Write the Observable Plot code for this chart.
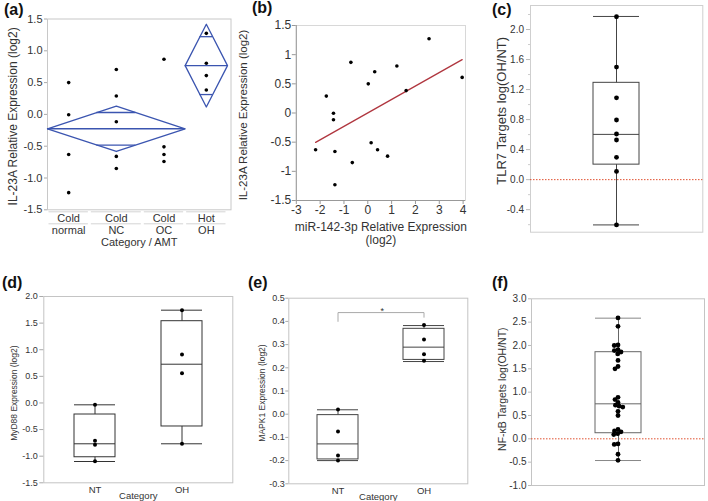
<!DOCTYPE html>
<html><head><meta charset="utf-8">
<script src="https://cdn.jsdelivr.net/npm/d3@7"></script>
<script src="https://cdn.jsdelivr.net/npm/@observablehq/plot@0.6"></script>
<style>
body{margin:0;background:#fff;}
#fig{position:relative;width:708px;height:501px;overflow:hidden;background:#fff;font-family:"Liberation Sans",Arial,Helvetica,sans-serif;}
#fig svg{position:absolute;overflow:visible;}
.lab{position:absolute;font-weight:bold;font-size:16px;line-height:16px;color:#111;}
</style></head><body><div id="fig"></div>
<script>
// ---------- DATA ----------
// (a)/(b) samples
const amtGroups = ["normal", "NC", "OC", "OH"];
const amtCategory = ["Cold", "Cold", "Cold", "Hot"];
const amtCounts = [4, 5, 4, 4];
const sampleGroup = ["normal","normal","normal","normal","NC","NC","NC","NC","NC","OC","OC","OC","OC","OH","OH","OH","OH"];
const il23a = [0.50, -0.005, -0.63, -1.23, 0.706, 0.29, -0.115, -0.66, -0.85, 0.868, -0.51, -0.63, -0.74, 1.274, 0.805, 0.61, 0.384];
const mir142 = [0.02, -1.44, -2.19, -1.38, 0.29, -1.74, -1.44, -1.38, -0.65, -0.71, 0.14, 0.41, 0.83, 2.57, 1.22, 3.96, 1.61];
// (a) means diamonds
const catNames = ["Cold", "Hot"];
const catMean = [-0.226, 0.767];
const catCI = [0.357, 0.650];
const catOverlap = [0.256, 0.455];
const aTicks = [-1.5, -1, -0.5, 0, 0.5, 1, 1.5];
const bTicksX = [-3, -2, -1, 0, 1, 2, 3, 4];
const bTicksY = [-1.5, -1, -0.5, 0, 0.5, 1, 1.5];
// (c) TLR7 targets
const tlr7 = [2.17, 1.50, 1.09, 0.795, 0.608, 0.528, 0.297, 0.11, -0.603];
const cBox = {q1: 0.20, med: 0.603, q3: 1.29, lo: -0.603, hi: 2.174};
const cTicks = [-0.4, 0, 0.4, 0.8, 1.2, 1.6, 2.0];
// (d) MyD88
const dKeys = ["NT", "OH"];
const dNT = [-0.035, -0.711, -0.786, -1.094];
const dOH = [1.743, 0.91, 0.56, -0.767];
const dQ1 = [-1.02, -0.442], dMed = [-0.767, 0.728], dQ3 = [-0.217, 1.536], dLo = [-1.10, -0.767], dHi = [-0.035, 1.743];
const dTicks = [-1.5, -1.0, -0.5, 0, 0.5, 1.0, 1.5, 2.0];
// (e) MAPK1
const eNT = [0.02, -0.075, -0.178, -0.20];
const eOH = [0.385, 0.322, 0.258, 0.23];
const eQ1 = [-0.195, 0.234], eMed = [-0.128, 0.289], eQ3 = [-0.004, 0.368], eLo = [-0.20, 0.227], eHi = [0.019, 0.382];
const eTicks = [-0.3, -0.2, -0.1, 0, 0.1, 0.2, 0.3, 0.4, 0.5];
const eBracket = {left: 0.40, top: 0.438, right: 0.418};
// (f) NF-kB targets
const nfkb = [2.59, 2.41, 2.01, 2.00, 1.91, 1.89, 1.86, 1.82, 1.68, 1.55, 1.50, 0.89, 0.84, 0.78, 0.72, 0.70, 0.68, 0.59, 0.50, 0.20, 0.17, 0.15, 0.11, 0.09, -0.11, -0.12, -0.33, -0.46];
const fBox = {q1: 0.12, med: 0.75, q3: 1.856, lo: -0.465, hi: 2.585};
const fTicks = [-1, -0.5, 0, 0.5, 1, 1.5, 2, 2.5, 3];

// ---------- HELPERS ----------
const FONT = '"Liberation Sans", Arial, Helvetica, sans-serif';
const fig = document.getElementById("fig");
const f1 = d => d.toFixed(1);
function place(svg, left, top) { svg.style.left = left + "px"; svg.style.top = top + "px"; fig.appendChild(svg); }
function letter(t, left, top) { const d = document.createElement("div"); d.className = "lab"; d.textContent = t; d.style.left = left + "px"; d.style.top = top + "px"; fig.appendChild(d); }
function boxMarks(box, color, capColor) {
  return [
    Plot.ruleX(box, {x: "k", y1: "q3", y2: "hi", stroke: color}),
    Plot.ruleX(box, {x: "k", y1: "lo", y2: "q1", stroke: color}),
    Plot.tickY(box, {x: "k", y: "hi", stroke: capColor}),
    Plot.tickY(box, {x: "k", y: "lo", stroke: capColor}),
    Plot.barY(box, {x: "k", y1: "q1", y2: "q3", fill: "none", stroke: color}),
    Plot.tickY(box, {x: "k", y: "med", stroke: color})
  ];
}
function yTitle(t, dx, dy, size) {
  return Plot.text([t], {frameAnchor: "left", textAnchor: "middle", lineAnchor: "middle", dx, dy, rotate: -90, fontSize: size, fill: "#333"});
}
function xText(t, dy, size) {
  return Plot.text([t], {frameAnchor: "bottom", lineAnchor: "middle", dy, fontSize: size, fill: "#333"});
}
const style = {fontFamily: FONT, background: "transparent", overflow: "visible", color: "#333"};

// ---------- (a) ----------
const cols = amtGroups.map((g, i) => {
  const s = d3.sum(amtCounts.slice(0, i));
  return {g, cat: amtCategory[i], s, e: s + amtCounts[i], c: s + amtCounts[i] / 2};
});
const aPts = il23a.map((v, i) => ({v, c: cols.find(c => c.g === sampleGroup[i]).c}));
const cats = catNames.map((n, i) => {
  const cs = cols.filter(c => c.cat === n);
  const x0 = d3.min(cs, c => c.s), x1 = d3.max(cs, c => c.e);
  return {n, x0, x1, xc: (x0 + x1) / 2, m: catMean[i], ci: catCI[i], ov: catOverlap[i]};
});
const diamond = cats.flatMap(c => [
  {id: c.n, x: c.x0, y: c.m}, {id: c.n, x: c.xc, y: c.m + c.ci}, {id: c.n, x: c.x1, y: c.m},
  {id: c.n, x: c.xc, y: c.m - c.ci}, {id: c.n, x: c.x0, y: c.m}]);
const diaSegs = cats.flatMap(c => {
  const hw = (c.x1 - c.x0) / 2 * (1 - c.ov / c.ci);
  return [{x1: c.x0, x2: c.x1, y: c.m}, {x1: c.xc - hw, x2: c.xc + hw, y: c.m + c.ov}, {x1: c.xc - hw, x2: c.xc + hw, y: c.m - c.ov}];
});
const BLUE = "#3b55b0";
place(Plot.plot({
  width: 236, height: 250, marginLeft: 47, marginRight: 5.5, marginTop: 18.5, marginBottom: 40.7, style,
  x: {domain: [0, 17.33], axis: null},
  y: {domain: [-1.5, 1.5], axis: null},
  marks: [
    Plot.frame({stroke: "#c8c8c8"}),
    Plot.axisY({ticks: aTicks, tickFormat: f1, tickSize: 3, tickPadding: 2, label: null, fontSize: 11, stroke: "#aaa", fill: "#333"}),
    Plot.line(diamond, {x: "x", y: "y", z: "id", stroke: BLUE, strokeWidth: 1.3}),
    Plot.ruleY(diaSegs, {x1: "x1", x2: "x2", y: "y", stroke: BLUE, strokeWidth: 1.3}),
    Plot.dot(aPts, {x: "c", y: "v", r: 1.8, fill: "#000", stroke: null}),
    Plot.ruleY(cols, {x1: "s", x2: "e", y: () => -1.5, dy: 2, stroke: "#d4d4d4", insetLeft: 1.5, insetRight: 1.5}),
    Plot.ruleY(cols, {x1: "s", x2: "e", y: () => -1.5, dy: 14, stroke: "#d4d4d4", insetLeft: 1.5, insetRight: 1.5}),
    Plot.text(cols, {x: "c", text: "cat", frameAnchor: "bottom", lineAnchor: "middle", dy: 8.4, fontSize: 11, fill: "#333"}),
    Plot.text(cols, {x: "c", text: "g", frameAnchor: "bottom", lineAnchor: "middle", dy: 20.7, fontSize: 11, fill: "#333"}),
    xText("Category / AMT", 32.4, 11),
    yTitle("IL-23A Relative Expression (log2)", -34, 2, 12)
  ]
}), 0, 0);
letter("(a)", 4, 1.5);

// ---------- (b) ----------
const bPts = il23a.map((v, i) => ({x: mir142[i], y: v}));
place(Plot.plot({
  width: 236, height: 250, marginLeft: 59.8, marginRight: 7, marginTop: 25, marginBottom: 50, style,
  x: {domain: [-3, 4.1], axis: null},
  y: {domain: [-1.5, 1.5], axis: null},
  marks: [
    Plot.frame({stroke: "#d8d8d8"}),
    Plot.ruleX([-3], {stroke: "#999"}),
    Plot.ruleY([-1.5], {stroke: "#999"}),
    Plot.axisX({ticks: bTicksX, tickFormat: d => String(d), tickSize: 4, tickPadding: 1, label: null, fontSize: 12, stroke: "#999", fill: "#333"}),
    Plot.axisY({ticks: bTicksY, tickFormat: d => String(d), tickSize: 4, tickPadding: 1, label: null, fontSize: 12, stroke: "#999", fill: "#333"}),
    Plot.linearRegressionY(bPts, {x: "x", y: "y", ci: 0, stroke: "#b0363f", strokeWidth: 1.3}),
    Plot.dot(bPts, {x: "x", y: "y", r: 1.8, fill: "#000", stroke: null}),
    xText("miR-142-3p Relative Expression", 26.7, 12),
    xText("(log2)", 39.3, 12),
    yTitle("IL-23A Relative Expression (log2)", -53, 2, 11.5)
  ]
}), 236, 0);
letter("(b)", 252, 0);

// ---------- (c) ----------
const RED = "#e0502f";
place(Plot.plot({
  width: 236, height: 250, marginLeft: 58, marginRight: 5.7, marginTop: 5, marginBottom: 18.3, style,
  x: {domain: ["TLR7"], padding: 0.579, axis: null},
  y: {domain: [-0.7, 2.32], axis: null},
  marks: [
    Plot.frame({stroke: "#cfcfcf"}),
    Plot.axisY(d3.range(-0.6, 2.31, 0.4).map(d => +d.toFixed(1)), {tickSize: 2, text: null, stroke: "#ccc"}),
    Plot.axisY({ticks: cTicks, tickFormat: f1, tickSize: 4, tickPadding: 2.5, label: null, fontSize: 10, stroke: "#bbb", fill: "#333"}),
    Plot.ruleY([0], {stroke: RED, strokeDasharray: "1.5,1.5", strokeWidth: 1}),
    ...boxMarks([{k: "TLR7", ...cBox}], "#444", "#444"),
    Plot.dot(tlr7, {x: () => "TLR7", y: d => d, r: 2.4, fill: "#000", stroke: null}),
    yTitle("TLR7 Targets log(OH/NT)", -28.3, -8, 13)
  ]
}), 472, 0);
letter("(c)", 492, 1.5);

// ---------- (d) ----------
const dBox = dKeys.map((k, i) => ({k, q1: dQ1[i], med: dMed[i], q3: dQ3[i], lo: dLo[i], hi: dHi[i]}));
const dPts = [...dNT.map(v => ({k: "NT", v})), ...dOH.map(v => ({k: "OH", v}))];
place(Plot.plot({
  width: 236, height: 251, marginLeft: 43.3, marginRight: 3.7, marginTop: 46, marginBottom: 18.7, style,
  x: {domain: dKeys, paddingInner: 0.534, paddingOuter: 0.347, align: 0.494, axis: null},
  y: {domain: [-1.5, 2.0], axis: null},
  marks: [
    Plot.frame({stroke: "#c4c4c4"}),
    Plot.axisX({tickSize: 0, tickPadding: 3, label: null, fontSize: 9.5, fill: "#333"}),
    Plot.axisY({ticks: dTicks, tickFormat: f1, tickSize: 4, tickPadding: 2, label: null, fontSize: 9, stroke: "#aaa", fill: "#333"}),
    ...boxMarks(dBox, "#333", "#333"),
    Plot.dot(dPts, {x: "k", y: "v", r: 2, fill: "#000", stroke: null}),
    xText("Category", 12.7, 9.5),
    yTitle("MyD88 Expression (log2)", -30, 3.5, 8.5)
  ]
}), 0, 250);
letter("(d)", 2, 275);

// ---------- (e) ----------
const eBox = dKeys.map((k, i) => ({k, q1: eQ1[i], med: eMed[i], q3: eQ3[i], lo: eLo[i], hi: eHi[i]}));
const ePts = [...eNT.map(v => ({k: "NT", v})), ...eOH.map(v => ({k: "OH", v}))];
const bracket = [{k: "NT", v: eBracket.left}, {k: "NT", v: eBracket.top}, {k: "OH", v: eBracket.top}, {k: "OH", v: eBracket.right}];
place(Plot.plot({
  width: 236, height: 251, marginLeft: 52.3, marginRight: 4.7, marginTop: 47.7, marginBottom: 17.7, style,
  x: {domain: dKeys, paddingInner: 0.527, paddingOuter: 0.297, align: 0.553, axis: null},
  y: {domain: [-0.3, 0.5], axis: null},
  marks: [
    Plot.frame({stroke: "#c4c4c4"}),
    Plot.axisX({tickSize: 0, tickPadding: 3, label: null, fontSize: 9.5, fill: "#333"}),
    Plot.axisY({ticks: eTicks, tickFormat: f1, tickSize: 3, tickPadding: 1, label: null, fontSize: 9, stroke: "#aaa", fill: "#333"}),
    ...boxMarks(eBox, "#444", "#444"),
    Plot.dot(ePts, {x: "k", y: "v", r: 2, fill: "#000", stroke: null}),
    Plot.line(bracket, {x: "k", y: "v", stroke: "#aaa", strokeWidth: 1}),
    Plot.text(["*"], {y: () => eBracket.top, frameAnchor: "middle", dx: 4, dy: -1, fontSize: 9, fill: "#333"}),
    xText("Category", 12.7, 9.5),
    yTitle("MAPK1 Expression (log2)", -26.6, 2, 8.5)
  ]
}), 236, 250);
letter("(e)", 248, 275);

// ---------- (f) ----------
const fDims = {width: 236, height: 251, marginLeft: 59, marginRight: 4, marginTop: 48.3, marginBottom: 16};
place(Plot.plot({
  ...fDims, style,
  x: {domain: ["NFkB"], padding: 0.58, axis: null},
  y: {domain: [-1, 3], axis: null},
  marks: [
    Plot.frame({stroke: "#c4c4c4"}),
    Plot.axisY({ticks: fTicks, tickFormat: f1, tickSize: 3, tickPadding: 2, label: null, fontSize: 10, stroke: "#bbb", fill: "#333"}),
    Plot.ruleY([0], {stroke: RED, strokeDasharray: "1.5,1.5", strokeWidth: 1}),
    ...boxMarks([{k: "NFkB", ...fBox}], "#666", "#888"),
    yTitle("NF-\u03baB Targets log(OH/NT)", -29.3, -3, 10.5)
  ]
}), 472, 250);
// beeswarm dots for (f), same frame and y scale, no band x scale
place(Plot.plot({
  ...fDims, style,
  y: {domain: [-1, 3], axis: null},
  marks: [
    Plot.dot(nfkb, Plot.dodgeX({anchor: "middle", padding: -1}, {y: d => d, r: 2.4, fill: "#000", stroke: null}))
  ]
}), 472, 250);
letter("(f)", 492, 275);
</script></body></html>
